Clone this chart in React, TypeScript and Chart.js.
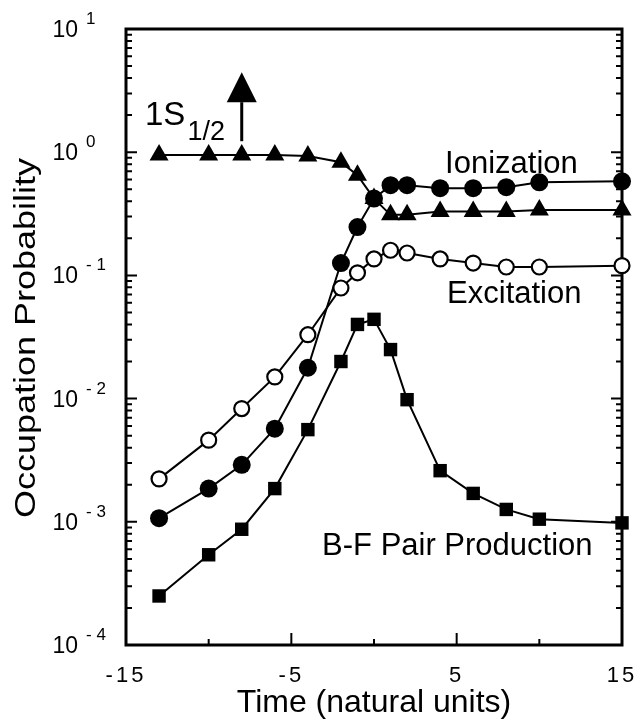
import React, { useEffect, useRef } from 'react';
import { Chart, registerables } from 'chart.js';

Chart.register(...registerables);

// ---- data ----
const times = [-13, -10, -8, -6, -4, -2, -1, 0, 1, 2, 4, 6, 8, 10, 15];
const groundState = [0.95, 0.95, 0.95, 0.95, 0.93, 0.83, 0.65, 0.42, 0.31, 0.31, 0.33, 0.33, 0.33, 0.34, 0.34];
const ionization = [1.07e-3, 1.86e-3, 2.9e-3, 5.7e-3, 1.78e-2, 0.126, 0.247, 0.42, 0.54, 0.54, 0.51, 0.51, 0.52, 0.57, 0.58];
const excitation = [2.23e-3, 4.6e-3, 8.3e-3, 1.5e-2, 3.3e-2, 0.079, 0.105, 0.136, 0.16, 0.152, 0.136, 0.126, 0.117, 0.117, 0.12];
const pairProduction = [2.5e-4, 5.4e-4, 8.7e-4, 1.86e-3, 5.6e-3, 2.0e-2, 0.04, 0.044, 0.025, 9.8e-3, 2.6e-3, 1.7e-3, 1.26e-3, 1.05e-3, 0.98e-3];

const xTickValues = [-15, -10, -5, 0, 5, 10, 15];
const xTickLabels = ['-15', '', '-5', '', '5', '', '15'];
const yTickExponents = [-4, -3, -2, -1, 0, 1];
const yTickSuperscripts = ['- 4', '- 3', '- 2', '- 1', '0', '1'];

const xTitle = 'Time (natural units)';
const yTitle = 'Occupation Probability';
const labelIonization = 'Ionization';
const labelExcitation = 'Excitation';
const labelPair = 'B-F Pair Production';
const labelStateMain = '1S';
const labelStateSub = '1/2';

const FONT = '"Liberation Sans", Arial, Helvetica, sans-serif';

const framePlugin = {
  id: 'frame',
  beforeDraw(chart: any) {
    const ctx = chart.ctx;
    ctx.save();
    ctx.fillStyle = '#ffffff';
    ctx.fillRect(0, 0, chart.width, chart.height);
    ctx.restore();
  },
  beforeDatasetsDraw(chart: any) {
    const ctx = chart.ctx;
    const { left, right, top, bottom } = chart.chartArea;
    const xs = chart.scales.x;
    const ys = chart.scales.y;
    ctx.save();
    ctx.strokeStyle = '#000';
    ctx.fillStyle = '#000';

    // frame
    ctx.lineWidth = 3;
    ctx.strokeRect(left, top, right - left, bottom - top);

    // y ticks (log, inside, both sides)
    ctx.lineWidth = 2;
    for (let i = 0; i < yTickExponents.length; i++) {
      const e = yTickExponents[i];
      const kmax = i === yTickExponents.length - 1 ? 1 : 9;
      for (let k = 1; k <= kmax; k++) {
        const v = k * Math.pow(10, e);
        const py = ys.getPixelForValue(v);
        const len = k === 1 ? 11 : 6;
        if (py <= top + 1 || py >= bottom - 1) continue;
        ctx.beginPath();
        ctx.moveTo(left, py);
        ctx.lineTo(left + len, py);
        ctx.moveTo(right, py);
        ctx.lineTo(right - len, py);
        ctx.stroke();
      }
    }

    // x ticks (inside, bottom)
    for (let i = 0; i < xTickValues.length; i++) {
      const px = xs.getPixelForValue(xTickValues[i]);
      if (px <= left + 1 || px >= right - 1) continue;
      const len = xTickLabels[i] ? 12 : 6;
      ctx.beginPath();
      ctx.moveTo(px, bottom);
      ctx.lineTo(px, bottom - len);
      ctx.stroke();
    }

    // y tick labels 10^e
    for (let i = 0; i < yTickExponents.length; i++) {
      const py = ys.getPixelForValue(Math.pow(10, yTickExponents[i]));
      ctx.font = `23px ${FONT}`;
      ctx.textAlign = 'right';
      ctx.textBaseline = 'alphabetic';
      ctx.fillText('10', left - 48, py + 8);
      ctx.font = `17px ${FONT}`;
      ctx.textAlign = 'left';
      ctx.fillText(yTickSuperscripts[i], left - 40, py - 5);
    }

    // x tick labels
    ctx.font = `22px ${FONT}`;
    ctx.textAlign = 'center';
    (ctx as any).letterSpacing = '3px';
    for (let i = 0; i < xTickValues.length; i++) {
      if (!xTickLabels[i]) continue;
      const px = xs.getPixelForValue(xTickValues[i]);
      ctx.fillText(xTickLabels[i], px, bottom + 37);
    }
    (ctx as any).letterSpacing = '0px';

    // x title
    ctx.font = `32px ${FONT}`;
    ctx.textAlign = 'center';
    ctx.fillText(xTitle, (left + right) / 2, bottom + 67);

    // y title (rotated)
    ctx.save();
    ctx.translate(35, (top + bottom) / 2 + 1);
    ctx.rotate(-Math.PI / 2);
    ctx.scale(1.2, 1);
    ctx.font = `30px ${FONT}`;
    ctx.textAlign = 'center';
    ctx.fillText(yTitle, 0, 0);
    ctx.restore();

    // curve labels
    ctx.font = `31px ${FONT}`;
    ctx.textAlign = 'left';
    ctx.fillText(labelIonization, xs.getPixelForValue(4.3), ys.getPixelForValue(0.678));
    ctx.fillText(labelExcitation, xs.getPixelForValue(4.42), ys.getPixelForValue(0.0597));
    ctx.fillText(labelPair, xs.getPixelForValue(-3.14), ys.getPixelForValue(5.37e-4));

    // 1S_{1/2} label
    const sx = xs.getPixelForValue(-13.85);
    const sy = ys.getPixelForValue(1.66);
    ctx.font = `33px ${FONT}`;
    ctx.fillText(labelStateMain, sx, sy);
    const w = ctx.measureText(labelStateMain).width;
    ctx.font = `27px ${FONT}`;
    ctx.fillText(labelStateSub, sx + w + 2, sy + 15);

    // arrow above the t=-8 point
    const ax = xs.getPixelForValue(-8);
    const ay = ys.getPixelForValue(1);
    ctx.lineWidth = 3;
    ctx.beginPath();
    ctx.moveTo(ax, ay - 11);
    ctx.lineTo(ax, ay - 50);
    ctx.stroke();
    ctx.beginPath();
    ctx.moveTo(ax - 15, ay - 50);
    ctx.lineTo(ax + 15, ay - 50);
    ctx.lineTo(ax, ay - 80);
    ctx.closePath();
    ctx.fill();

    ctx.restore();
  },
};

function toPoints(values: number[]) {
  return times.map((t, i) => ({ x: t, y: values[i] }));
}

export default function App() {
  const ref = useRef<HTMLCanvasElement | null>(null);
  useEffect(() => {
    document.body.style.margin = '0';
    const canvas = ref.current!;
    const chart = new Chart(canvas, {
      type: 'line',
      data: {
        datasets: [
          {
            label: 'B-F Pair Production',
            data: toPoints(pairProduction),
            borderColor: '#000',
            backgroundColor: '#000',
            borderWidth: 2,
            pointStyle: 'rect',
            pointRadius: 9.5,
            pointBorderWidth: 0,
            pointBackgroundColor: '#000',
            clip: false as any,
          },
          {
            label: 'Excitation',
            data: toPoints(excitation),
            borderColor: '#000',
            backgroundColor: '#fff',
            borderWidth: 2,
            pointStyle: 'circle',
            pointRadius: 7.5,
            pointBorderWidth: 2.2,
            pointBorderColor: '#000',
            pointBackgroundColor: '#fff',
            clip: false as any,
          },
          {
            label: 'Ionization',
            data: toPoints(ionization),
            borderColor: '#000',
            backgroundColor: '#000',
            borderWidth: 2,
            pointStyle: 'circle',
            pointRadius: 9,
            pointBorderWidth: 0,
            pointBackgroundColor: '#000',
            clip: false as any,
          },
          {
            label: '1S1/2',
            data: toPoints(groundState),
            borderColor: '#000',
            backgroundColor: '#000',
            borderWidth: 2,
            pointStyle: 'triangle',
            pointRadius: 11,
            pointBorderWidth: 0,
            pointBackgroundColor: '#000',
            clip: false as any,
          },
        ],
      },
      options: {
        animation: false,
        responsive: false,
        maintainAspectRatio: false,
        devicePixelRatio: 1,
        layout: { padding: { left: 126, right: 22, top: 29, bottom: 79 } },
        scales: {
          x: { type: 'linear', min: -15, max: 15, display: false },
          y: { type: 'logarithmic', min: 1e-4, max: 10, display: false },
        },
        plugins: {
          legend: { display: false },
          tooltip: { enabled: false },
        },
        elements: { line: { tension: 0 } },
      },
      plugins: [framePlugin],
    });
    return () => chart.destroy();
  }, []);
  return (
    <canvas
      ref={ref}
      width={644}
      height={724}
      style={{ display: 'block', width: 644, height: 724 }}
    />
  );
}
